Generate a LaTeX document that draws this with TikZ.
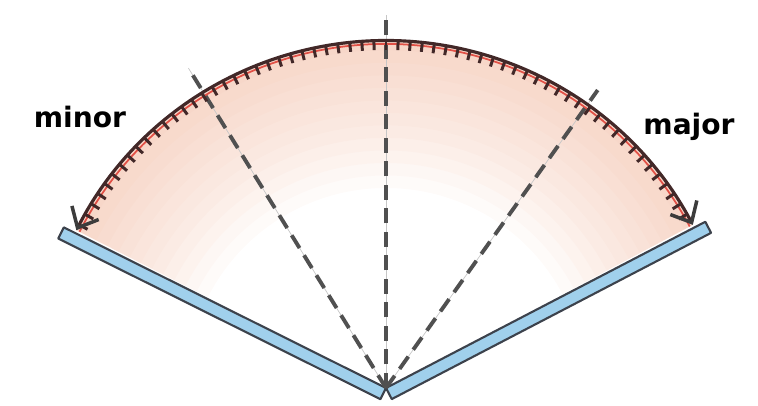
\documentclass[tikz,border=0pt]{standalone}
\usepackage{fontspec}
\setsansfont{DejaVu Sans}
\usetikzlibrary{arrows.meta}

\definecolor{arcdark}{RGB}{66,40,40}
\definecolor{arcred}{RGB}{225,80,70}
\definecolor{shadepink}{RGB}{238,170,140}
\definecolor{stripblue}{RGB}{160,208,236}
\definecolor{stripedge}{RGB}{60,66,76}
\definecolor{dashgray}{RGB}{80,80,80}
\definecolor{barbgray}{RGB}{60,60,60}

\begin{document}
\begin{tikzpicture}[
    radial/.style={draw=dashgray, line width=2.2pt, dash pattern=on 0.3cm off 0.17cm},
    pencil/.style={draw=gray!45, line width=0.4pt},
    strip/.style={draw=stripedge, fill=stripblue, line width=1.2pt, line join=round},
    tickmark/.style={draw=arcdark, line width=1.7pt},
    arcline/.style={draw=arcdark, line width=1.8pt, -{Straight Barb[length=3.4mm, width=6mm, line width=2pt, color=barbgray]}},
    sidelabel/.style={font=\sffamily\bfseries\fontsize{16}{18}\selectfont, anchor=base}
]
    \useasboundingbox (-7.72,-0.36) rectangle (7.44,7.76);

    \coordinate (O) at (0,0);
    \coordinate (apex) at (90:6.95);
    \coordinate (tL) at (121.7:7.52);
    \coordinate (tM) at (90:7.46);
    \coordinate (tR) at (54.6:7.31);

    % pink shading under the arc, strongest at the rim
    \foreach \r in {4.0,4.25,...,6.8} {
        \fill[shadepink, opacity=0.05] (28:\r) arc (28:153:\r) -- (153:6.95) arc (153:28:6.95) -- cycle;
    }

    % blue edges
    \draw[strip, rotate=153.5] (0,0) rectangle (7.2,0.25);
    \draw[strip, rotate=27.5] (0,-0.25) rectangle (7.2,0);

    % dashed radii
    \foreach \t in {tL,tM,tR} {
        \draw[pencil] (O) -- (\t);
        \draw[radial] (O) -- (\t);
    }

    % hatching inside the arc
    \draw[arcred, line width=1pt] (28:6.88) arc (28:153:6.88);
    \foreach \a in {30,32,...,152} {
        \draw[tickmark] (\a:6.95) -- (\a:6.76);
    }

    % arc, both ways from the top
    \draw[arcline] (apex) arc (90:153:6.95);
    \draw[arcline] (apex) arc (90:28:6.95);

    \node[sidelabel] (minor) at (-6.12,5.2) {minor};
    \node[sidelabel] (major) at (6.06,5.06) {major};
\end{tikzpicture}
\end{document}
